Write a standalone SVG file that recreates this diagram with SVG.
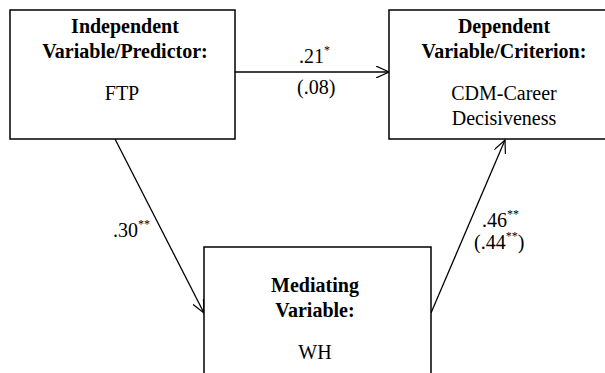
<svg xmlns="http://www.w3.org/2000/svg" width="605" height="373" viewBox="0 0 605 373" font-family="'Liberation Serif', 'Times New Roman', Times, serif">
<defs>
<style>
.box{fill:#fff;stroke:#000;stroke-width:1.5}
.t{font-family:'Liberation Serif','Times New Roman',Times,serif;font-size:20px;fill:#000;text-anchor:middle}
.b{font-weight:bold}
.l{font-family:'Liberation Serif','Times New Roman',Times,serif;font-size:20px;fill:#000}
.s{font-size:12px}
.c{stroke:#000;stroke-width:1.3;fill:none;marker-end:url(#ah)}
</style>
<marker id="ah" viewBox="0 0 14 12" refX="13" refY="6" markerWidth="14" markerHeight="12" markerUnits="userSpaceOnUse" orient="auto">
<path d="M0,0 L13,6 L0,12" fill="none" stroke="#000" stroke-width="1.2"/>
</marker>
</defs>
<rect width="605" height="373" fill="#fff"/>
<g id="connectors">
<line class="c" x1="235" y1="72" x2="389" y2="72"/>
<line class="c" x1="115" y1="139" x2="204" y2="313"/>
<line class="c" x1="431" y1="313" x2="505" y2="140"/>
<text class="l" x="299" y="63">.21<tspan class="s" dy="-9">*</tspan></text>
<text class="l" x="297" y="94">(.08)</text>
<text class="l" x="113" y="237">.30<tspan class="s" dy="-9">**</tspan></text>
<text class="l" x="482" y="227">.46<tspan class="s" dy="-9">**</tspan></text>
<text class="l" x="474" y="249">(.44<tspan class="s" dy="-9">**</tspan><tspan dy="9">)</tspan></text>
</g>
<g id="independent">
<rect class="box" x="10" y="10" width="225" height="129"/>
<text class="t b" x="125" y="33">Independent</text>
<text class="t b" x="125" y="58">Variable/Predictor:</text>
<text class="t" x="122" y="100">FTP</text>
</g>
<g id="dependent">
<rect class="box" x="389" y="10" width="240" height="129"/>
<text class="t b" x="504" y="33">Dependent</text>
<text class="t b" x="504" y="58">Variable/Criterion:</text>
<text class="t" x="504" y="100">CDM-Career</text>
<text class="t" x="504" y="125">Decisiveness</text>
</g>
<g id="mediating">
<rect class="box" x="204" y="247" width="227" height="140"/>
<text class="t b" x="315" y="292">Mediating</text>
<text class="t b" x="315" y="317">Variable:</text>
<text class="t" x="315" y="359">WH</text>
</g>
</svg>
